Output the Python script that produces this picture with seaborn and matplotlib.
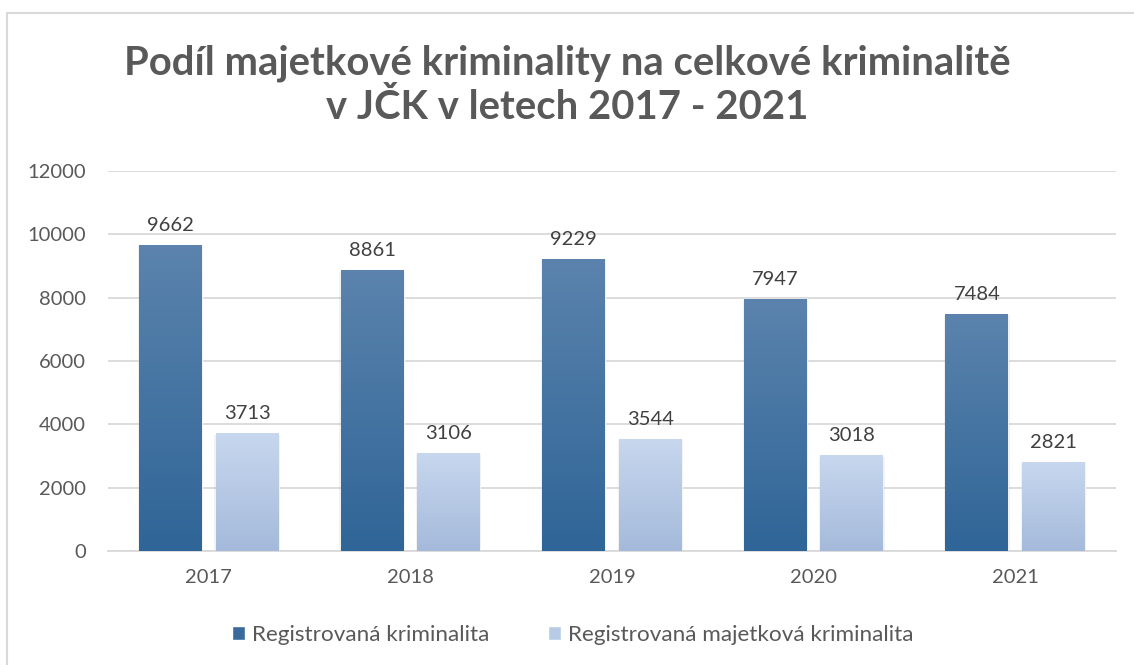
import numpy as np
import pandas as pd
import seaborn as sns
import matplotlib.pyplot as plt
from matplotlib.patches import Rectangle

years = ['2017', '2018', '2019', '2020', '2021']
celkova = [9662, 8861, 9229, 7947, 7484]
majetkova = [3713, 3106, 3544, 3018, 2821]
series_names = ['Registrovaná kriminalita', 'Registrovaná majetková kriminalita']
y_ticks = [0, 2000, 4000, 6000, 8000, 10000, 12000]

df = pd.DataFrame({
    'rok': years * 2,
    'pocet': celkova + majetkova,
    'serie': [series_names[0]] * len(years) + [series_names[1]] * len(years),
})

sns.set_theme(style="white")
plt.rcParams['font.family'] = ['Lato', 'DejaVu Sans']

# gradient top -> bottom for each series
grads = [('#5b83ad', '#2f6597'), ('#c7d7ee', '#a5badb')]

fig = plt.figure(figsize=(11.34, 6.65), dpi=100)
ax = fig.add_axes([108 / 1134, (665 - 551) / 665, (1116 - 108) / 1134, (551 - 171) / 665])

sns.barplot(data=df, x='rok', y='pocet', hue='serie', palette=[g[1] for g in grads],
            width=0.76, gap=0.18, ax=ax, legend=False)

ax.set_ylim(0, 12000)
ax.set_yticks(y_ticks)
ax.set_xlim(-0.5, len(years) - 0.5)
ax.grid(axis='y', color='#d9d9d9', linewidth=1.3)
ax.set_axisbelow(True)
for s in ['top', 'right', 'left']:
    ax.spines[s].set_visible(False)
ax.spines['bottom'].set_color('#d9d9d9')
ax.spines['bottom'].set_linewidth(1.3)
ax.set_xlabel('')
ax.set_ylabel('')
ax.tick_params(axis='both', length=0, labelsize=14.5, labelcolor='#595959')
ax.tick_params(axis='x', pad=13)
ax.tick_params(axis='y', pad=16)

# gradient fill + labels
for i, cont in enumerate(ax.containers):
    top_c, bot_c = grads[i]
    cmap = sns.blend_palette([bot_c, top_c], as_cmap=True)
    grad = np.linspace(0, 1, 256).reshape(-1, 1)
    for bar in cont:
        x0, w, h = bar.get_x(), bar.get_width(), bar.get_height()
        # soft shadow
        ax.add_patch(Rectangle((x0 - 0.006, 0), w + 0.012, h - 40, facecolor='#000000',
                               alpha=0.05, edgecolor='none', zorder=2))
        im = ax.imshow(grad, extent=[x0, x0 + w, 0, h], origin='lower', cmap=cmap,
                       aspect='auto', zorder=3)
        im.set_clip_path(bar)
        bar.set_zorder(1)
    ax.bar_label(cont, padding=8, fontsize=14.5, color='#404040')

ax.set_xlim(-0.5, len(years) - 0.5)
ax.set_ylim(0, 12000)

fig.suptitle('Podíl majetkové kriminality na celkové kriminalitě\nv JČK v letech 2017 - 2021',
             y=1 - 44 / 665, va='top', fontsize=28.8, fontweight='bold', color='#595959',
             linespacing=1.25)

handles = [Rectangle((0, 0), 1, 1, facecolor=c) for c in ['#3a6a9c', '#b8cbe6']]
fig.legend(handles, series_names, loc='center', bbox_to_anchor=(0.505, 1 - 635 / 665),
           ncol=2, frameon=False, fontsize=16.2, handlelength=0.6, handleheight=0.6,
           handletextpad=0.3, columnspacing=2.6, labelcolor='#595959')

fig.patches.append(Rectangle((7 / 1134, -0.01), 1.02, 1 - 13 / 665 + 0.01, transform=fig.transFigure,
                             fill=False, edgecolor='#d9d9d9', linewidth=1.5))

fig.savefig('out.png', dpi=100)
